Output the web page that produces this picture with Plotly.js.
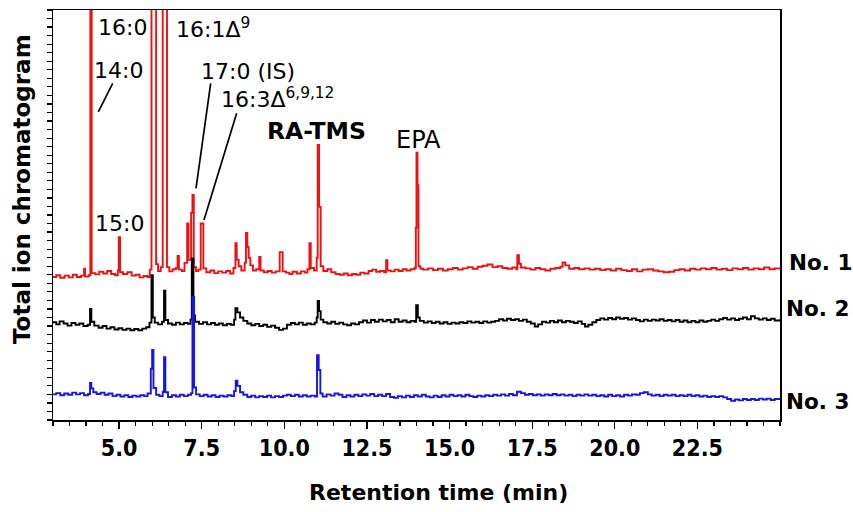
<!DOCTYPE html>
<html>
<head>
<meta charset="utf-8">
<script src="https://cdn.plot.ly/plotly-3.0.1.min.js"></script>
<style>html,body{margin:0;padding:0;background:#fff;}#chart{width:853px;height:512px;}</style>
</head>
<body>
<div id="chart"></div>
<script>
// Retention time (min) and relative total-ion signal
const time1 = [3.00,3.10,3.22,3.35,3.48,3.60,3.72,3.85,3.94,3.97,4.08,4.13,4.17,4.28,4.40,4.52,4.64,4.76,4.88,4.96,4.99,5.03,5.12,5.25,5.38,5.50,5.62,5.74,5.86,5.93,5.98,6.12,6.18,6.26,6.32,6.45,6.52,6.62,6.72,6.77,6.81,6.90,6.98,7.06,7.10,7.18,7.22,7.26,7.33,7.40,7.47,7.55,7.64,7.76,7.88,8.00,8.12,8.24,8.36,8.46,8.52,8.56,8.62,8.70,8.80,8.84,8.88,8.92,8.97,9.05,9.15,9.24,9.28,9.38,9.50,9.62,9.74,9.86,9.95,10.05,10.15,10.25,10.38,10.50,10.62,10.70,10.76,10.80,10.90,10.98,11.01,11.05,11.10,11.18,11.30,11.42,11.55,11.68,11.80,11.92,12.05,12.18,12.30,12.42,12.55,12.66,12.78,12.90,13.02,13.08,13.12,13.22,13.34,13.46,13.58,13.70,13.82,13.94,13.98,14.00,14.03,14.06,14.12,14.20,14.35,14.50,14.65,14.80,14.95,15.10,15.25,15.40,15.55,15.70,15.85,16.00,16.15,16.30,16.45,16.60,16.75,16.90,17.02,17.05,17.10,17.16,17.30,17.45,17.60,17.75,17.90,18.05,18.20,18.35,18.42,18.50,18.62,18.78,18.92,19.08,19.24,19.40,19.56,19.72,19.88,20.04,20.20,20.36,20.52,20.68,20.84,21.00,21.16,21.32,21.48,21.64,21.80,21.96,22.12,22.28,22.44,22.60,22.76,22.92,23.08,23.24,23.40,23.56,23.72,23.88,24.04,24.20,24.36,24.52,24.68,24.84,25.00];
const signal1 = [33.5,33.9,33.3,33.8,33.4,34.0,33.5,33.8,35.4,33.6,33.9,140,34.4,34.1,34.7,34.3,34.9,34.2,33.9,35.0,42.8,34.6,34.2,34.6,33.8,34.0,33.4,33.7,33.5,35.2,140,36.5,34.9,35.8,140,35.8,34.8,35.3,35.6,38.4,35.2,34.9,36.8,46.0,37.5,48.5,52.7,35.8,34.9,35.2,46.0,35.5,34.6,35.0,34.4,34.8,34.5,34.9,34.3,35.6,41.4,37.5,36.0,35.0,36.8,43.8,40.5,38.0,36.2,35.0,35.3,38.2,35.0,34.6,34.9,34.5,34.8,39.3,34.8,34.5,34.2,34.7,34.3,34.8,34.5,35.3,41.4,35.6,35.0,38.0,64.4,49.9,36.0,34.9,35.3,34.6,34.2,34.0,34.3,33.9,34.2,34.0,34.5,34.3,34.9,35.2,34.7,34.9,34.6,37.4,35.0,34.8,35.2,34.9,35.3,35.0,35.3,35.6,45.0,62.6,55.0,36.0,35.4,35.2,35.5,35.1,35.4,35.0,35.3,35.6,35.2,35.5,35.8,35.4,35.9,36.1,36.4,35.8,36.0,35.6,35.4,35.7,35.3,38.6,36.6,35.7,35.5,35.2,35.6,35.3,35.0,35.4,35.6,35.9,36.9,36.2,35.4,35.6,35.3,35.5,35.2,35.4,35.1,35.3,35.0,35.4,35.1,34.9,35.3,34.8,35.2,35.3,35.0,34.8,34.6,34.7,35.1,35.3,35.0,35.4,35.2,35.5,35.3,35.6,35.2,35.4,35.1,35.5,35.3,35.6,35.2,35.5,35.3,35.7,35.3,35.5,35.2];

const time2 = [3.00,3.10,3.20,3.32,3.44,3.56,3.68,3.80,3.92,4.05,4.12,4.16,4.25,4.38,4.50,4.62,4.74,4.86,4.98,5.10,5.22,5.34,5.46,5.58,5.70,5.82,5.92,5.98,6.02,6.08,6.18,6.30,6.36,6.40,6.48,6.60,6.72,6.84,6.96,7.08,7.16,7.20,7.25,7.30,7.42,7.54,7.66,7.78,7.90,8.02,8.14,8.26,8.38,8.48,8.52,8.58,8.66,8.76,8.88,9.00,9.12,9.24,9.36,9.48,9.60,9.72,9.84,9.96,10.08,10.20,10.32,10.44,10.56,10.68,10.80,10.92,10.98,11.01,11.05,11.10,11.18,11.30,11.42,11.54,11.66,11.78,11.90,12.02,12.14,12.26,12.38,12.50,12.62,12.74,12.86,12.98,13.10,13.22,13.34,13.46,13.58,13.70,13.82,13.94,13.99,14.04,14.10,14.22,14.34,14.46,14.58,14.70,14.82,14.94,15.06,15.18,15.30,15.42,15.54,15.66,15.78,15.90,16.02,16.14,16.26,16.38,16.50,16.62,16.74,16.86,16.98,17.10,17.22,17.34,17.46,17.58,17.68,17.80,17.92,18.04,18.16,18.28,18.40,18.52,18.64,18.76,18.88,19.00,19.10,19.20,19.32,19.44,19.56,19.68,19.80,19.92,20.04,20.16,20.28,20.40,20.52,20.64,20.76,20.88,21.00,21.12,21.24,21.36,21.48,21.60,21.72,21.84,21.96,22.08,22.20,22.32,22.44,22.56,22.68,22.80,22.92,23.04,23.16,23.28,23.40,23.52,23.64,23.76,23.88,24.00,24.12,24.24,24.36,24.48,24.60,24.72,24.84,25.00];
const signal2 = [22.9,22.4,23.1,22.6,22.1,22.7,22.3,22.6,22.0,22.3,26.0,23.0,22.1,21.6,22.0,21.4,21.7,21.2,21.5,21.1,21.4,21.0,21.3,21.0,21.4,21.7,22.8,33.9,24.0,22.8,22.4,23.0,30.3,23.4,22.6,22.3,22.8,22.4,22.7,22.5,23.5,37.8,24.5,23.0,22.5,22.9,22.4,22.7,22.3,22.6,22.2,22.5,22.3,23.5,26.2,25.2,24.0,23.2,22.6,22.2,22.5,22.0,22.3,21.8,22.1,21.6,21.1,21.4,22.3,22.7,22.4,22.8,22.3,22.6,22.4,22.8,24.0,27.9,25.5,23.5,22.9,22.6,23.0,22.5,22.8,22.4,22.2,22.6,22.4,22.9,23.3,22.8,23.4,23.0,23.5,23.1,23.4,22.9,23.6,23.0,23.3,22.9,23.2,23.0,26.9,24.0,23.2,22.8,23.1,22.7,23.0,22.6,22.9,22.5,22.8,22.6,22.9,22.7,23.1,22.8,23.0,22.7,23.1,22.8,23.0,23.2,23.6,23.3,23.7,23.4,23.6,23.2,23.5,23.0,22.6,21.9,22.4,23.0,22.8,23.2,22.9,23.3,22.9,23.2,23.0,22.7,23.1,22.5,21.9,22.3,22.9,23.4,23.8,23.5,23.9,23.6,24.0,23.7,23.9,23.5,23.8,23.4,23.1,23.5,23.2,23.5,23.3,23.6,23.2,23.4,23.1,23.4,23.0,23.3,22.9,23.2,22.9,23.3,23.0,23.2,23.5,23.2,23.6,23.9,23.5,23.8,23.4,23.7,24.0,23.6,24.3,23.8,23.5,23.8,23.4,23.7,23.3,23.6];

const time3 = [3.00,3.10,3.22,3.34,3.46,3.58,3.70,3.82,3.94,4.06,4.12,4.16,4.22,4.32,4.44,4.56,4.68,4.80,4.92,5.04,5.16,5.28,5.40,5.52,5.64,5.76,5.86,5.96,6.00,6.04,6.12,6.22,6.32,6.36,6.40,6.48,6.60,6.72,6.84,6.96,7.08,7.18,7.22,7.27,7.33,7.44,7.56,7.68,7.80,7.92,8.04,8.16,8.28,8.40,8.48,8.53,8.58,8.66,8.76,8.88,9.00,9.12,9.24,9.36,9.48,9.60,9.72,9.84,9.96,10.08,10.20,10.32,10.44,10.56,10.68,10.80,10.92,10.99,11.04,11.09,11.16,11.28,11.40,11.52,11.64,11.76,11.88,12.00,12.12,12.24,12.36,12.48,12.60,12.72,12.84,12.96,13.08,13.20,13.32,13.44,13.56,13.68,13.80,13.92,14.04,14.16,14.28,14.40,14.52,14.64,14.76,14.88,15.00,15.12,15.24,15.36,15.48,15.60,15.72,15.84,15.96,16.08,16.20,16.32,16.44,16.56,16.68,16.80,16.92,17.04,17.16,17.28,17.40,17.52,17.64,17.76,17.88,18.00,18.12,18.24,18.36,18.48,18.60,18.72,18.84,18.96,19.08,19.20,19.32,19.44,19.56,19.68,19.80,19.92,20.04,20.16,20.28,20.40,20.52,20.64,20.76,20.88,21.00,21.12,21.24,21.36,21.48,21.60,21.72,21.84,21.96,22.08,22.20,22.32,22.44,22.56,22.68,22.80,22.92,23.04,23.16,23.28,23.40,23.52,23.64,23.76,23.88,24.00,24.12,24.24,24.36,24.48,24.60,24.72,24.84,25.00];
const signal3 = [6.0,6.3,5.8,6.2,5.9,6.4,6.0,6.3,5.8,6.1,8.7,7.4,6.5,6.1,6.4,5.9,6.2,5.6,5.9,5.5,5.8,5.4,5.7,5.5,5.8,5.6,6.2,12.0,16.4,7.5,5.9,5.6,6.6,14.7,6.5,5.4,5.8,5.5,5.9,5.6,5.9,6.3,28.8,7.6,6.0,5.6,5.9,5.5,5.8,5.4,5.7,5.5,5.8,5.6,6.8,9.2,8.0,6.5,5.9,5.4,5.7,5.3,5.6,5.4,5.7,5.3,5.6,5.4,5.7,5.9,5.6,5.9,5.5,5.8,5.5,5.7,5.5,15.2,11.7,6.2,5.5,6.0,5.7,6.2,5.9,5.4,5.8,5.5,5.9,5.6,6.0,5.7,6.1,5.6,5.9,5.6,6.1,5.4,5.2,5.6,5.3,5.7,5.4,5.8,5.5,5.9,5.5,5.3,5.7,5.4,5.8,5.5,5.9,5.6,5.8,5.5,5.9,5.6,5.4,5.7,5.5,5.8,5.6,5.9,5.7,6.0,5.7,6.1,5.8,6.6,6.3,5.9,6.1,5.8,6.0,5.7,6.0,5.8,6.1,5.8,6.0,5.7,5.9,5.6,5.9,5.7,6.0,5.7,5.9,5.6,5.8,5.5,5.9,5.6,5.8,5.5,5.9,5.7,6.0,5.9,6.3,6.5,6.0,5.7,5.9,5.6,5.9,5.7,5.9,5.6,5.8,5.6,5.9,5.6,5.8,5.5,5.7,5.4,5.6,5.4,5.6,5.3,4.9,4.5,4.8,4.6,4.9,4.7,4.9,4.7,5.0,4.8,5.0,4.7,4.9,4.8];

const seriesNames = ['No. 1','No. 2','No. 3'];
const seriesColors = ['#ee1111','#000000','#1515e6'];
const xTickLabels = ['5.0','7.5','10.0','12.5','15.0','17.5','20.0','22.5'];
const xTickValues = [5,7.5,10,12.5,15,17.5,20,22.5];

const times = [time1, time2, time3];
const signals = [signal1, signal2, signal3];
const traces = times.map((t, i) => ({
  x: t, y: signals[i], type: 'scatter', mode: 'lines', name: seriesNames[i],
  line: {color: seriesColors[i], width: 1.9, shape: 'hv'}, hoverinfo: 'skip'
}));

const labelFont = {family: 'DejaVu Sans', size: 22, color: '#000'};
const ann = (text, x, y, font) => ({text, x, y, xref: 'x', yref: 'y', xanchor: 'left', yanchor: 'middle', showarrow: false, font: font || labelFont});

const annotations = [
  ann('16:0', 4.30, 91.8),
  ann('16:1Δ<sup>9</sup>', 6.66, 91.8),
  ann('14:0', 4.17, 81.9),
  ann('17:0 (IS)', 7.42, 81.5),
  ann('16:3Δ<sup>6,9,12</sup>', 8.02, 75.4),
  ann('<b>RA-TMS</b>', 9.42, 67.7, {family: 'DejaVu Sans', size: 23.5, color: '#000'}),
  ann('EPA', 13.33, 65.5, {family: 'DejaVu Sans', size: 24, color: '#000'}),
  ann('15:0', 4.22, 46.1),
  {text: '<b>No. 1</b>', x: 1.010, y: 0.385, xref: 'paper', yref: 'paper', xanchor: 'left', yanchor: 'middle', showarrow: false, font: {family: 'DejaVu Sans', size: 21.5, color: '#000'}},
  {text: '<b>No. 2</b>', x: 1.006, y: 0.273, xref: 'paper', yref: 'paper', xanchor: 'left', yanchor: 'middle', showarrow: false, font: {family: 'DejaVu Sans', size: 21.5, color: '#000'}},
  {text: '<b>No. 3</b>', x: 1.006, y: 0.044, xref: 'paper', yref: 'paper', xanchor: 'left', yanchor: 'middle', showarrow: false, font: {family: 'DejaVu Sans', size: 21.5, color: '#000'}},
  {text: '<b>Retention time (min)</b>', x: 0.5296, y: -0.178, xref: 'paper', yref: 'paper', xanchor: 'center', yanchor: 'middle', showarrow: false, font: {family: 'DejaVu Sans', size: 22, color: '#000'}},
  {text: '<b>Total ion chromatogram</b>', x: -0.0426, y: 0.5634, xref: 'paper', yref: 'paper', xanchor: 'center', yanchor: 'middle', textangle: -90, showarrow: false, font: {family: 'DejaVu Sans', size: 23, color: '#000'}}
];

const leader = (x0, y0, x1, y1) => ({type: 'line', xref: 'x', yref: 'y', x0, y0, x1, y1, line: {color: '#000', width: 1.7}});
const shapes = [
  leader(4.806, 78.82, 4.371, 72.17),
  leader(7.772, 78.82, 7.327, 54.24),
  leader(8.558, 71.80, 7.569, 46.82)
];

const layout = {
  width: 853, height: 512,
  margin: {l: 53, r: 73, t: 10, b: 92},
  paper_bgcolor: '#fff', plot_bgcolor: '#fff',
  showlegend: false,
  xaxis: {
    range: [3, 25], showgrid: false, zeroline: false,
    showline: true, linecolor: '#000', linewidth: 1.5, mirror: true,
    ticks: 'outside', ticklen: 7, tickwidth: 1.3, tickcolor: '#000',
    tickmode: 'array', tickvals: xTickValues, ticktext: xTickLabels,
    minor: {dtick: 0.5, tick0: 3, ticks: 'outside', ticklen: 4, tickwidth: 1.2, tickcolor: '#000', showgrid: false},
    tickfont: {family: 'DejaVu Sans Condensed', size: 23, color: '#000', weight: 'bold'}
  },
  yaxis: {
    range: [0, 96], showgrid: false, zeroline: false,
    showline: true, linecolor: '#000', linewidth: 1.5, mirror: true,
    ticks: 'outside', ticklen: 5, tickwidth: 1.2, tickcolor: '#000',
    dtick: 2, tick0: 0, showticklabels: false
  },
  annotations, shapes
};

Plotly.newPlot('chart', traces, layout, {displayModeBar: false, staticPlot: true});
</script>
</body>
</html>
